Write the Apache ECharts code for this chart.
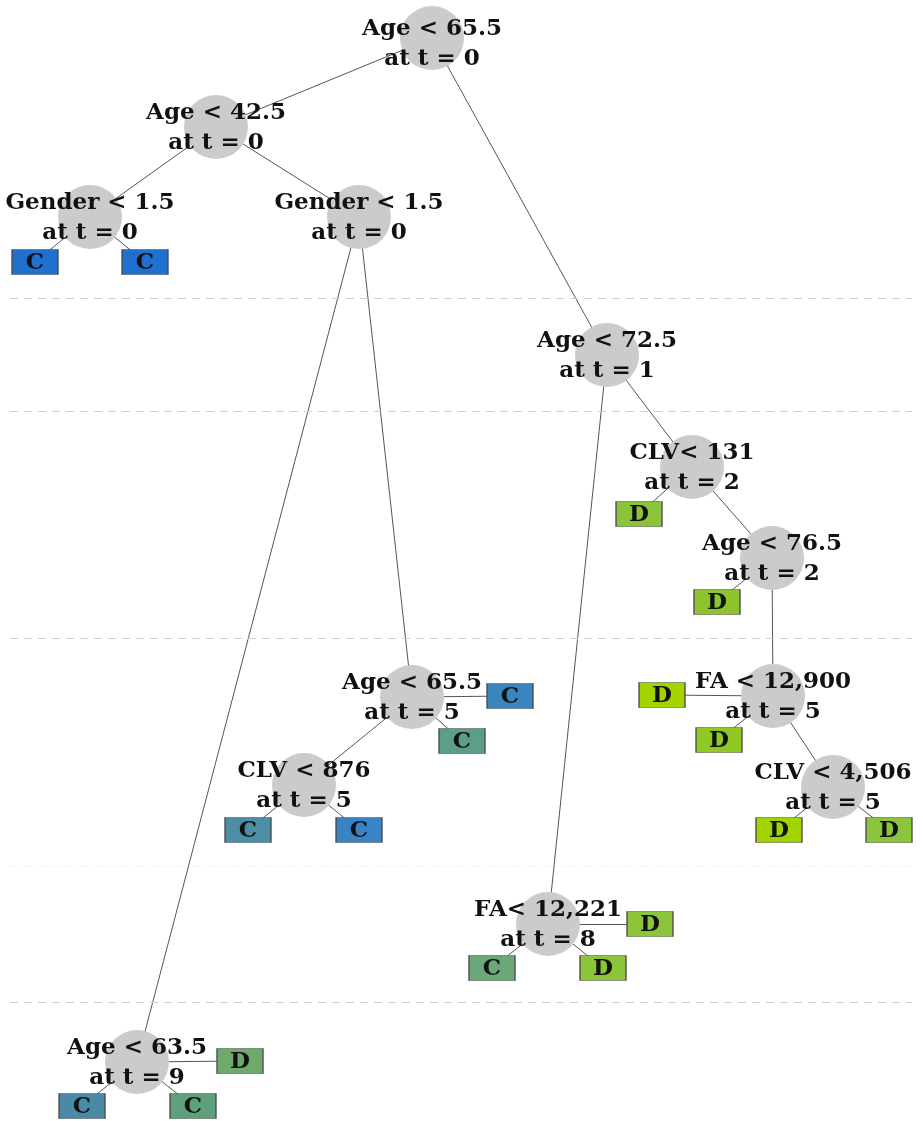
<!DOCTYPE html>
<html>
<head>
<meta charset="utf-8">
<script src="https://cdn.jsdelivr.net/npm/echarts@6/dist/echarts.min.js"></script>
<style>
html,body{margin:0;padding:0;background:#fff;}
#chart{width:923px;height:1121px;}
</style>
</head>
<body>
<div id="chart"></div>
<script>
// ---- data ----
const nodeNames = ["Age < 65.5","Age < 42.5","Gender < 1.5","Gender < 1.5","Age < 72.5","CLV< 131","Age < 76.5","FA < 12,900","CLV < 4,506","Age < 65.5","CLV < 876","FA< 12,221","Age < 63.5"];
const nodeTimes = [0,0,0,0,1,2,2,5,5,5,5,8,9];
const nodeParent = [-1,0,1,1,0,4,5,6,7,3,9,4,3];
const leafLabels = ["C","C","D","D","D","D","D","D","C","C","C","C","D","C","D","D","C","C"];
const leafParent = [2,2,5,6,7,7,8,8,9,9,10,10,11,11,11,12,12,12];
const timeBandBoundaries = [298,411,638,866,1002];

// ---- layout (tree drawing positions) ----
const nodeX = [432,216,90,359,607,692,772,773,833,412,304,548,137];
const nodeY = [38,127,217,217,355,467,558,696,787,697,785,924,1062];
const leafX = [35,145,639,717,662,719,779,889,510,462,248,359,650,492,603,240,82,193];
const leafY = [262,262,514,602,695,740,830,830,696,741,830,830,924,968,968,1061,1106,1106];
const leafColors = ["#1f70cf","#1f70cf","#8bc43b","#8dc42e","#a3d400","#8fc823","#a0d300","#8cc43c","#3a85be","#5c9e86","#4b8ea6","#3a83c5","#8cc43c","#6aa87a","#8cc43a","#6eaa6c","#4a8aa6","#5fa07c"];

const FONT = "DejaVu Serif";
const nodes = [];
const links = [];
nodeNames.forEach((n,i)=>{
  nodes.push({
    id: 'n'+i, name: n, value:[nodeX[i], nodeY[i]],
    symbol:'circle', symbolSize:64,
    itemStyle:{color:'#cbcbcb'},
    label:{show:true, position:'inside', formatter: n + '\nat t = ' + nodeTimes[i],
      fontFamily:FONT, fontWeight:'bold', fontSize:23, color:'#111', lineHeight:30, offset:[0, i===0 ? 6 : 1]}
  });
  if (nodeParent[i] >= 0) links.push({source:'n'+nodeParent[i], target:'n'+i});
});
leafLabels.forEach((l,i)=>{
  nodes.push({
    id:'l'+i, name:l, value:[leafX[i], leafY[i]],
    symbol:'rect', symbolSize:[46,25],
    itemStyle:{color:leafColors[i], borderColor:'#4a4a4a', borderWidth:1},
    label:{show:true, position:'inside', formatter:l, fontFamily:FONT, fontWeight:'bold', fontSize:23, color:'#111', offset:[0,1]}
  });
  links.push({source:'n'+leafParent[i], target:'l'+i});
});

const chart = echarts.init(document.getElementById('chart'), null, {renderer:'canvas'});
chart.setOption({
  backgroundColor:'#ffffff',
  animation:false,
  grid:{left:10,right:11,top:0,bottom:0},
  xAxis:{type:'value',min:10,max:912,show:false},
  yAxis:{type:'value',min:0,max:1121,inverse:true,show:false},
  series:[
    {
      type:'scatter', data:[], silent:true,
      markLine:{
        silent:true, symbol:['none','none'], animation:false,
        label:{show:false},
        lineStyle:{type:[8,6], color:'#cfcfcf', width:1.2},
        data: timeBandBoundaries.map((v,i)=>({yAxis:v, lineStyle: i===3 ? {color:'#f3f3f3'} : undefined}))
      }
    },
    {
      type:'graph', coordinateSystem:'cartesian2d', layout:'none',
      data:nodes, links:links, silent:true,
      lineStyle:{color:'#555', width:1, opacity:1, curveness:0},
      edgeSymbol:['none','none']
    }
  ]
});
</script>
</body>
</html>
